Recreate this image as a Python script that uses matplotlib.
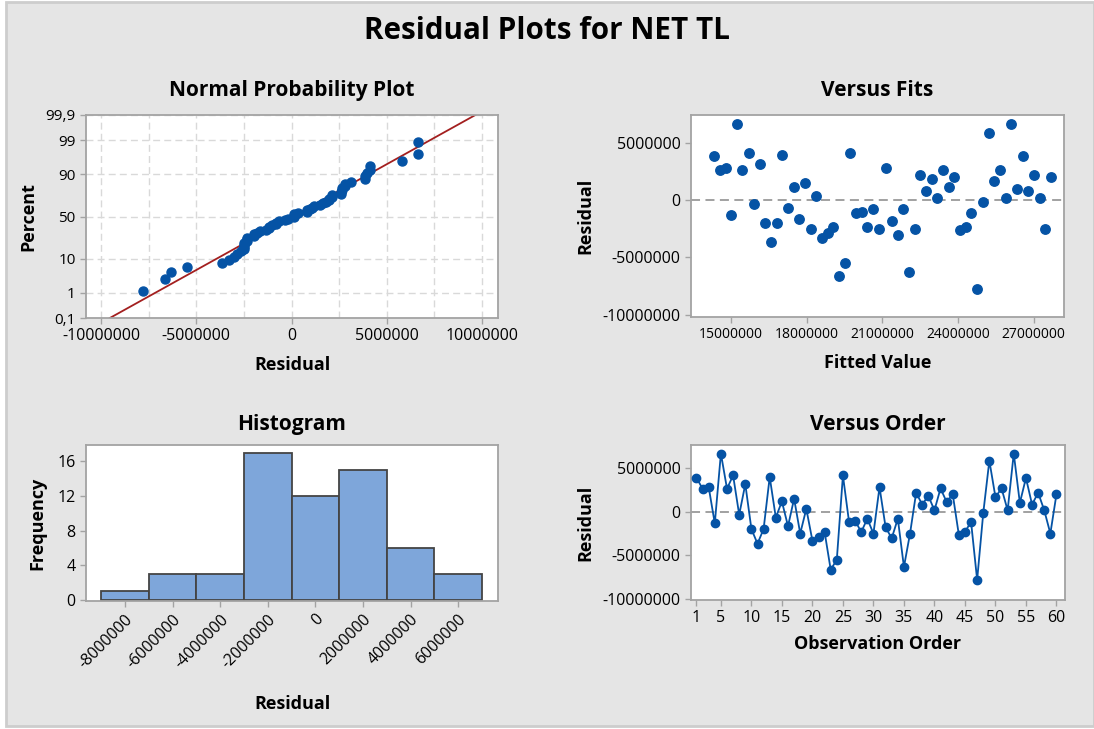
import matplotlib
matplotlib.use("Agg")
import matplotlib.pyplot as plt
import numpy as np
from matplotlib.patches import Rectangle
from matplotlib.ticker import FuncFormatter
from statistics import NormalDist

plt.rcParams['font.family'] = ['Open Sans', 'DejaVu Sans']

# observation order 1..60
order = np.arange(1, 61)

# fitted values
fitted = np.array([
    14.33, 14.55, 14.79, 15.00, 15.24, 15.46, 15.70, 15.92, 16.14, 16.37,
    16.59, 16.82, 17.04, 17.26, 17.49, 17.71, 17.93, 18.16, 18.38, 18.61,
    18.83, 19.05, 19.29, 19.51, 19.74, 19.96, 20.18, 20.41, 20.63, 20.86,
    21.16, 21.38, 21.61, 21.84, 22.07, 22.29, 22.51, 22.74, 22.96, 23.18,
    23.41, 23.63, 23.86, 24.08, 24.30, 24.53, 24.76, 24.99, 25.21, 25.43,
    25.66, 25.89, 26.11, 26.33, 26.57, 26.79, 27.01, 27.24, 27.46, 27.70]) * 1e6

# residuals in observation order
resid = np.array([
    3.84, 2.62, 2.79, -1.34, 6.63, 2.62, 4.13, -0.35, 3.14, -1.98,
    -3.66, -1.98, 3.95, -0.67, 1.16, -1.66, 1.48, -2.50, 0.32, -3.31,
    -2.85, -2.33, -6.63, -5.47, 4.13, -1.16, -1.03, -2.33, -0.81, -2.50,
    2.79, -1.80, -3.03, -0.81, -6.31, -2.50, 2.15, 0.81, 1.80, 0.15,
    2.65, 1.10, 1.98, -2.65, -2.33, -1.16, -7.79, -0.17, 5.81, 1.66,
    2.65, 0.15, 6.63, 0.99, 3.84, 0.81, 2.15, 0.15, -2.50, 1.98]) * 1e6

pct_ticks = [0.1, 1, 10, 50, 90, 99, 99.9]
pct_labels = ['0,1', '1', '10', '50', '90', '99', '99,9']
hist_edges = np.arange(-9e6, 7.5e6, 2e6)
hist_ticks = np.arange(-8e6, 6.5e6, 2e6)

blue = '#0553a5'
spine_c = '#a3a3a3'
W, H = 1094, 729

fig = plt.figure(figsize=(W / 100, H / 100), dpi=100, facecolor='white')
fig.patches.append(Rectangle((6 / W, 3 / H), 1 - 6 / W, 1 - 5 / H, transform=fig.transFigure,
                             facecolor='#e5e5e5', edgecolor='#cdcdcd', lw=2, zorder=-10))

def box(l, r, t, b):
    return fig.add_axes([l / W, 1 - b / H, (r - l) / W, (b - t) / H])

def style(ax):
    for s in ax.spines.values():
        s.set_color(spine_c)
        s.set_linewidth(1.3)
    ax.tick_params(colors=spine_c, labelcolor='black', labelsize=11.5, length=4, width=1)
    ax.set_facecolor('white')

intfmt = FuncFormatter(lambda v, p: '%d' % round(v))

fig.text(0.5, 1 - 31 / H, 'Residual Plots for NET TL', ha='center', va='center',
         fontsize=21.3, fontweight='bold')

# --- normal probability plot
ax1 = box(86, 498, 115, 318)
style(ax1)
nd = NormalDist()
n = len(resid)
srt = np.sort(resid)
pp = (np.arange(1, n + 1) - 0.3) / (n + 0.4)
zz = np.array([nd.inv_cdf(p) for p in pp])
zlim = nd.inv_cdf(0.999)
mu, sd = resid.mean(), resid.std(ddof=1)
ax1.plot([mu - sd * zlim, mu + sd * zlim], [-zlim, zlim], color='#a31f1f', lw=1.3, zorder=2)
ax1.plot(srt, zz, 'o', color=blue, ms=6.5, zorder=3)
ax1.set_ylim(-zlim, zlim)
ax1.set_xlim(-10.8e6, 10.85e6)
ax1.set_yticks([nd.inv_cdf(p / 100) for p in pct_ticks])
ax1.set_yticklabels(pct_labels)
ax1.tick_params(axis='y', labelsize=11)
ax1.set_xticks(np.arange(-10e6, 10.5e6, 5e6))
ax1.set_xticks(np.arange(-7.5e6, 8e6, 5e6), minor=True)
ax1.xaxis.set_major_formatter(intfmt)
ax1.tick_params(which='minor', length=0)
ax1.grid(True, which='both', ls=(0, (5, 3)), color='#d9d9d9', lw=1)
ax1.set_axisbelow(True)
ax1.set_title('Normal Probability Plot', fontsize=15, fontweight='bold', pad=14)
ax1.set_xlabel('Residual', fontsize=13, fontweight='bold', labelpad=8)
ax1.set_ylabel('Percent', fontsize=13, fontweight='bold', labelpad=6)

# --- versus fits
ax2 = box(691, 1064, 115, 317)
style(ax2)
ax2.axhline(0, color='#9a9a9a', ls=(0, (5, 3)), lw=1.3, zorder=1)
ax2.plot(fitted, resid, 'o', color=blue, ms=6.8, zorder=3)
ax2.set_xlim(13.42e6, 28.2e6)
ax2.set_ylim(-10.2e6, 7.4e6)
ax2.set_xticks(np.arange(15e6, 28e6, 3e6))
ax2.set_yticks([-10e6, -5e6, 0, 5e6])
ax2.xaxis.set_major_formatter(intfmt)
ax2.yaxis.set_major_formatter(intfmt)
ax2.tick_params(axis='x', labelsize=10)
ax2.set_title('Versus Fits', fontsize=15, fontweight='bold', pad=14)
ax2.set_xlabel('Fitted Value', fontsize=13, fontweight='bold', labelpad=8)
ax2.set_ylabel('Residual', fontsize=13, fontweight='bold', labelpad=6)

# --- histogram
ax3 = box(86, 498, 445, 601)
style(ax3)
ax3.hist(resid, bins=hist_edges, color='#7ea6da', edgecolor='#444444', lw=1.3, zorder=2)
ax3.set_xlim(-9.64e6, 7.67e6)
ax3.set_ylim(-0.1, 17.9)
ax3.set_yticks([0, 4, 8, 12, 16])
ax3.set_xticks(hist_ticks)
ax3.xaxis.set_major_formatter(intfmt)
plt.setp(ax3.get_xticklabels(), rotation=45, ha='right', rotation_mode='anchor')
ax3.set_title('Histogram', fontsize=15, fontweight='bold', pad=11)
ax3.set_xlabel('Residual', fontsize=13, fontweight='bold', labelpad=17)
ax3.set_ylabel('Frequency', fontsize=13, fontweight='bold', labelpad=8)

# --- versus order
ax4 = box(691, 1065, 445, 600)
style(ax4)
ax4.axhline(0, color='#9a9a9a', ls=(0, (5, 3)), lw=1.3, zorder=1)
ax4.plot(order, resid, '-o', color=blue, ms=6, lw=1.3, zorder=3)
ax4.set_xlim(0.1, 61.4)
ax4.set_ylim(-10.08e6, 7.6e6)
ax4.set_xticks([1, 5, 10, 15, 20, 25, 30, 35, 40, 45, 50, 55, 60])
ax4.set_yticks([-10e6, -5e6, 0, 5e6])
ax4.yaxis.set_major_formatter(intfmt)
ax4.set_title('Versus Order', fontsize=15, fontweight='bold', pad=11)
ax4.set_xlabel('Observation Order', fontsize=13, fontweight='bold', labelpad=6)
ax4.set_ylabel('Residual', fontsize=13, fontweight='bold', labelpad=6)

fig.savefig('out.png', dpi=100, facecolor='white')
